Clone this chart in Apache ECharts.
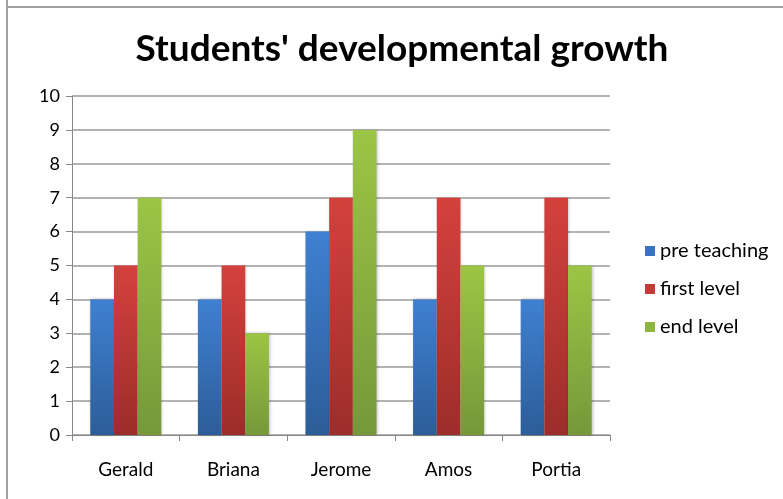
<!DOCTYPE html>
<html>
<head>
<meta charset="utf-8">
<script src="https://cdn.jsdelivr.net/npm/echarts@6/dist/echarts.min.js"></script>
<style>html,body{margin:0;padding:0;background:#fff;}#c{width:783px;height:499px;}</style>
</head>
<body>
<div id="c"></div>
<script>
const categories = ['Gerald', 'Briana', 'Jerome', 'Amos', 'Portia'];
const preTeaching = [4, 4, 6, 4, 4];
const firstLevel = [5, 5, 7, 7, 7];
const endLevel = [7, 3, 9, 5, 5];
const seriesNames = ['pre teaching', 'first level', 'end level'];

function grad(top, bottom) {
  return new echarts.graphic.LinearGradient(0, 0, 0, 1, [
    {offset: 0, color: top}, {offset: 1, color: bottom}
  ]);
}
const colors = [
  grad('#3f80d2', '#2c5d98'),
  grad('#d4413d', '#9c2d2a'),
  grad('#9cc545', '#76983a')
];
const legendColors = ['#3a74c0', '#c43c38', '#8db542'];

const chart = echarts.init(document.getElementById('c'));
const font = 'Lato, "Open Sans", sans-serif';
chart.setOption({
  animation: false,
  backgroundColor: '#fff',
  title: {
    text: "Students' developmental growth",
    left: 397, top: 26, textAlign: 'center',
    textStyle: {fontFamily: font, fontWeight: 'bold', fontSize: 37, color: '#000'}
  },
  graphic: [
    {type: 'line', shape: {x1: 7, y1: 0, x2: 7, y2: 499}, style: {stroke: '#a0a0a0', lineWidth: 2}},
    {type: 'line', shape: {x1: 6, y1: 7, x2: 783, y2: 7}, style: {stroke: '#a0a0a0', lineWidth: 2}}
  ],
  legend: {
    orient: 'vertical', left: 640, top: 236,
    itemWidth: 10, itemHeight: 10, itemGap: 18,
    icon: 'rect',
    textStyle: {fontFamily: font, fontSize: 20, color: '#000'},
    data: seriesNames.map((n, i) => ({name: n, itemStyle: {color: legendColors[i]}}))
  },
  grid: {left: 72, top: 96, width: 538, height: 339},
  xAxis: {
    type: 'category', data: categories,
    axisLine: {lineStyle: {color: '#888', width: 1}},
    axisTick: {show: true, length: 6, lineStyle: {color: '#888'}},
    axisLabel: {fontFamily: font, fontSize: 19, color: '#000', margin: 25}
  },
  yAxis: {
    type: 'value', min: 0, max: 10, interval: 1,
    axisLine: {show: true, lineStyle: {color: '#888', width: 1}},
    axisTick: {show: true, length: 6, lineStyle: {color: '#888'}},
    axisLabel: {fontFamily: font, fontSize: 18, color: '#000', margin: 12},
    splitLine: {lineStyle: {color: '#9a9a9a', width: 1.5}}
  },
  series: [preTeaching, firstLevel, endLevel].map((d, i) => ({
    name: seriesNames[i], type: 'bar', data: d,
    barGap: '0%', barCategoryGap: '34%',
    itemStyle: {color: colors[i], shadowColor: 'rgba(0,0,0,0.25)', shadowBlur: 3, shadowOffsetX: 1}
  }))
});
</script>
</body>
</html>
